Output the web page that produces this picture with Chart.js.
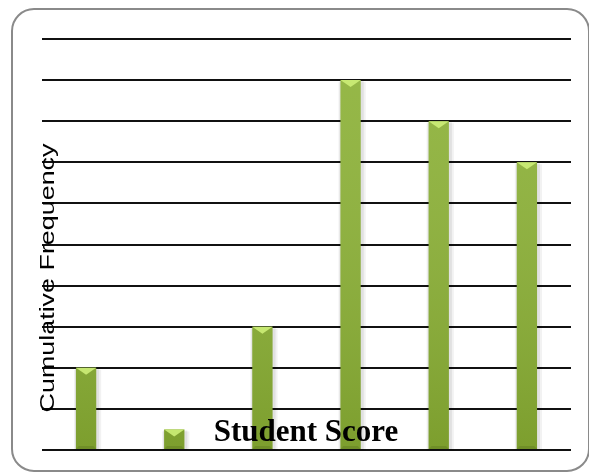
<!DOCTYPE html>
<html>
<head>
<meta charset="utf-8">
<script src="https://cdn.jsdelivr.net/npm/chart.js@4/dist/chart.umd.min.js"></script>
<style>
  html, body { margin: 0; padding: 0; background: #fff; }
  #wrap { width: 589px; height: 474px; position: relative; }
</style>
</head>
<body>
<div id="wrap"><canvas id="scoreChart"></canvas></div>
<script>
const scoreGroups = ['1', '2', '3', '4', '5', '6'];
const cumulativeFreq = [2, 0.5, 3, 9, 8, 7];
const yTicks = [0, 1, 2, 3, 4, 5, 6, 7, 8, 9, 10];

const yTitle = 'Cumulative Frequency';
const xTitle = 'Student Score';

// rounded frame around the whole chart
const framePlugin = {
  id: 'frame',
  beforeDraw(chart) {
    const ctx = chart.ctx;
    const x = 12, y = 9, w = 577, h = 462, r = 22;
    ctx.save();
    ctx.strokeStyle = '#8a8a8a';
    ctx.lineWidth = 2;
    ctx.beginPath();
    ctx.moveTo(x + r, y);
    ctx.lineTo(x + w - r, y);
    ctx.arcTo(x + w, y, x + w, y + r, r);
    ctx.lineTo(x + w, y + h - r);
    ctx.arcTo(x + w, y + h, x + w - r, y + h, r);
    ctx.lineTo(x + r, y + h);
    ctx.arcTo(x, y + h, x, y + h - r, r);
    ctx.lineTo(x, y + r);
    ctx.arcTo(x, y, x + r, y, r);
    ctx.stroke();
    ctx.restore();
  }
};

// soft shadow, bevels and shading on the bars + axis captions
const decorPlugin = {
  id: 'decor',
  beforeDatasetsDraw(chart) {
    const ctx = chart.ctx;
    ctx.save();
    chart.getDatasetMeta(0).data.forEach(bar => {
      const half = bar.width / 2;
      ctx.fillStyle = 'rgba(0,0,0,0.07)';
      ctx.fillRect(bar.x - half - 1, bar.y + 1, bar.width + 4, bar.base - bar.y);
      ctx.fillStyle = 'rgba(0,0,0,0.05)';
      ctx.fillRect(bar.x - half - 2, bar.y + 2, bar.width + 7, bar.base - bar.y);
    });
    ctx.restore();
  },
  afterDatasetsDraw(chart) {
    const ctx = chart.ctx;
    const meta = chart.getDatasetMeta(0);
    ctx.save();
    meta.data.forEach(bar => {
      const half = bar.width / 2;
      const left = bar.x - half, right = bar.x + half;
      // darken toward the base
      const v = ctx.createLinearGradient(0, chart.chartArea.top, 0, bar.base);
      v.addColorStop(0, 'rgba(255,255,255,0.08)');
      v.addColorStop(1, 'rgba(50,70,0,0.18)');
      ctx.fillStyle = v;
      ctx.fillRect(left, bar.y, bar.width, bar.base - bar.y);

      const d = Math.min(7, (bar.base - bar.y) / 2);
      ctx.fillStyle = 'rgba(205,238,120,0.9)';
      ctx.beginPath();
      ctx.moveTo(left, bar.y);
      ctx.lineTo(right, bar.y);
      ctx.lineTo(bar.x, bar.y + d);
      ctx.closePath();
      ctx.fill();
      // darker bottom bevel
      ctx.fillStyle = 'rgba(90,115,30,0.35)';
      ctx.beginPath();
      ctx.moveTo(left, bar.base);
      ctx.lineTo(right, bar.base);
      ctx.lineTo(right - 3, bar.base - 3);
      ctx.lineTo(left + 3, bar.base - 3);
      ctx.closePath();
      ctx.fill();
    });
    ctx.restore();
  },
  afterDraw(chart) {
    const ctx = chart.ctx;
    ctx.save();
    ctx.fillStyle = '#000';
    ctx.font = '21px "Liberation Sans", Arial, sans-serif';
    ctx.textAlign = 'center';
    ctx.textBaseline = 'alphabetic';
    ctx.translate(54, 278);
    ctx.rotate(-Math.PI / 2);
    ctx.scale(1.28, 1);
    ctx.fillText(yTitle, 0, 0);
    ctx.restore();

    ctx.save();
    ctx.fillStyle = '#000';
    ctx.font = 'bold 31px "Liberation Serif", "Times New Roman", serif';
    ctx.textAlign = 'center';
    ctx.textBaseline = 'alphabetic';
    ctx.fillText(xTitle, 306, 441);
    ctx.restore();
  }
};

function barFill(context) {
  const chart = context.chart;
  const el = context.element;
  if (!el || !Number.isFinite(el.x) || !Number.isFinite(el.width)) return '#8db238';
  const half = el.width / 2;
  const g = chart.ctx.createLinearGradient(el.x - half, 0, el.x + half, 0);
  g.addColorStop(0, '#779a27');
  g.addColorStop(0.25, '#98c23c');
  g.addColorStop(0.55, '#a2cb45');
  g.addColorStop(0.85, '#8cb136');
  g.addColorStop(1, '#6f9023');
  return g;
}

new Chart(document.getElementById('scoreChart'), {
  type: 'bar',
  data: {
    labels: scoreGroups,
    datasets: [{
      data: cumulativeFreq,
      backgroundColor: barFill,
      borderWidth: 0,
      categoryPercentage: 0.46,
      barPercentage: 0.5
    }]
  },
  options: {
    responsive: true,
    maintainAspectRatio: false,
    animation: false,
    layout: { padding: { left: 42, right: 18, top: 39, bottom: 24 } },
    plugins: {
      legend: { display: false },
      tooltip: { enabled: false }
    },
    scales: {
      x: {
        ticks: { display: false },
        grid: { display: false, drawTicks: false },
        border: { display: false }
      },
      y: {
        min: yTicks[0],
        max: yTicks[yTicks.length - 1],
        afterBuildTicks(scale) {
          scale.ticks = yTicks.map(v => ({ value: v }));
        },
        ticks: { display: false },
        grid: { color: '#111', lineWidth: 2, drawTicks: false },
        border: { display: false }
      }
    }
  },
  plugins: [framePlugin, decorPlugin]
});
</script>
</body>
</html>
